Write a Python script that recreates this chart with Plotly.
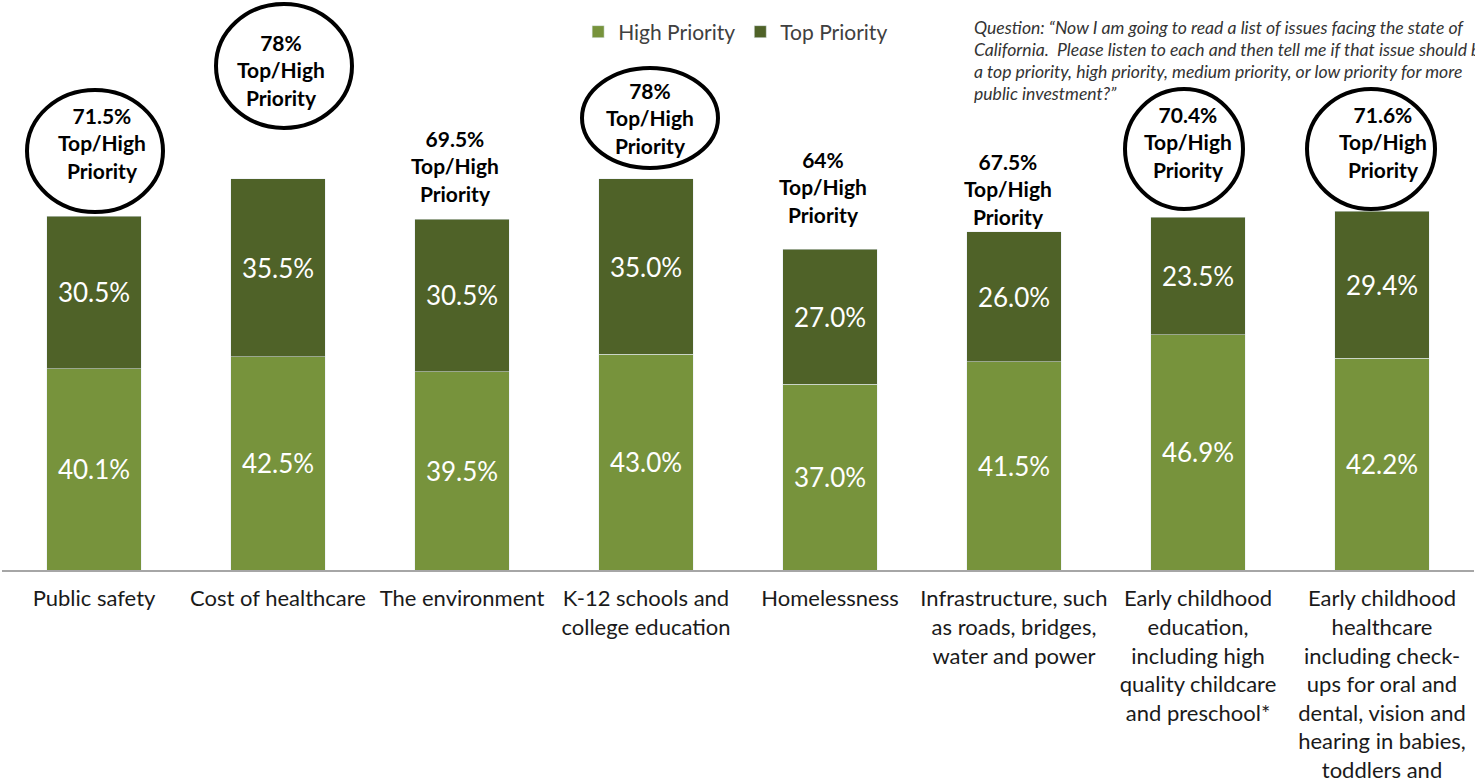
import plotly.graph_objects as go

categories = [
    "Public safety",
    "Cost of healthcare",
    "The environment",
    "K-12 schools and<br>college education",
    "Homelessness",
    "Infrastructure, such<br>as roads, bridges,<br>water and power",
    "Early childhood<br>education,<br>including high<br>quality childcare<br>and preschool*",
    "Early childhood<br>healthcare<br>including check-<br>ups for oral and<br>dental, vision and<br>hearing in babies,<br>toddlers and<br>young children",
]
high_priority = [40.1, 42.5, 39.5, 43.0, 37.0, 41.5, 46.9, 42.2]
top_priority = [30.5, 35.5, 30.5, 35.0, 27.0, 26.0, 23.5, 29.4]
total_labels = ["71.5%", "78%", "69.5%", "78%", "64%", "67.5%", "70.4%", "71.6%"]
circled = [True, True, False, True, False, False, True, True]
question_lines = [
    "Question: \u201cNow I am going to read a list of issues facing the state of",
    "California.  Please listen to each and then tell me if that issue should be",
    "a top priority, high priority, medium priority, or low priority for more",
    "public investment?\u201d",
]

# styling: pixel offsets of total labels / ellipses relative to bar top
label_dx = [8, 3, -7, 4, -7, -6, -10, 1]
label_dy = [73, 109, 53, 61, 62, 43, 75, 69]
ell_dx = [1, 6, 0, 4, 0, 0, -14, -11]
ell_dy = [65, 113, 0, 61, 0, 0, 68, 62]
ell_rx = [68, 68, 0, 68, 0, 0, 59, 64]
ell_ry = [61, 62, 0, 50, 0, 0, 60, 60]

LIGHT = "#77933C"
DARK = "#4F6228"
FONT = "Lato, 'Liberation Sans', sans-serif"

x_idx = list(range(len(categories)))
totals = [h + t for h, t in zip(high_priority, top_priority)]

fig = go.Figure()
fig.add_trace(go.Bar(
    x=x_idx, y=high_priority, name="High Priority", marker_color=LIGHT,
    text=[f"{v:.1f}%" for v in high_priority], textposition="inside",
    insidetextanchor="middle", textangle=0,
    textfont=dict(color="white", size=26, family=FONT),
))
fig.add_trace(go.Bar(
    x=x_idx, y=top_priority, name="Top Priority", marker_color=DARK,
    text=[f"{v:.1f}%" for v in top_priority], textposition="inside",
    insidetextanchor="middle", textangle=0,
    textfont=dict(color="white", size=26, family=FONT),
))

annotations = []
shapes = []
for i in x_idx:
    annotations.append(dict(
        x=i, y=totals[i], xref="x", yref="y",
        text=f"{total_labels[i]}<br>Top/High<br>Priority",
        showarrow=False, xanchor="center", yanchor="middle", align="center",
        xshift=label_dx[i], yshift=label_dy[i],
        font=dict(size=21, color="#000000", family=FONT, weight="bold"),
    ))
    if circled[i]:
        shapes.append(dict(
            type="circle", xref="x", yref="y",
            xsizemode="pixel", ysizemode="pixel",
            xanchor=i, yanchor=totals[i],
            x0=ell_dx[i] - ell_rx[i], x1=ell_dx[i] + ell_rx[i],
            y0=ell_dy[i] - ell_ry[i], y1=ell_dy[i] + ell_ry[i],
            line=dict(color="black", width=4), fillcolor="rgba(0,0,0,0)",
        ))

for k, line in enumerate(question_lines):
    annotations.append(dict(
        xref="paper", yref="paper", x=(972 - 2) / 1472, y=1 - (27 + 22.3 * k) / 570,
        text=f"<i>{line}</i>", showarrow=False, xanchor="left", yanchor="middle",
        align="left", font=dict(size=17.6, color="#333333", family=FONT),
    ))

fig.update_layout(
    width=1475, height=784,
    margin=dict(l=2, r=1, t=0, b=214, autoexpand=False),
    barmode="stack", bargap=0.484,
    plot_bgcolor="white", paper_bgcolor="white",
    showlegend=True,
    legend=dict(
        orientation="h", x=0.3914, y=1 - 32 / 570, xanchor="left", yanchor="middle",
        traceorder="normal", font=dict(size=21, color="#404040", family=FONT),
        bgcolor="rgba(0,0,0,0)",
    ),
    xaxis=dict(
        tickmode="array", tickvals=x_idx, ticktext=categories,
        range=[-0.5, len(categories) - 0.5], automargin=False,
        showline=True, linecolor="#A6A6A6", linewidth=2,
        ticks="", ticklabelstandoff=8,
        tickfont=dict(size=22, color="#1a1a1a", family=FONT),
        showgrid=False, zeroline=False,
    ),
    yaxis=dict(range=[0, 570 / 5.014], visible=False, showgrid=False,
               zeroline=False, automargin=False),
    annotations=annotations,
    shapes=shapes,
)

fig.write_html("out.html", config={"displayModeBar": False},
               post_script="document.body.style.margin='0';")
